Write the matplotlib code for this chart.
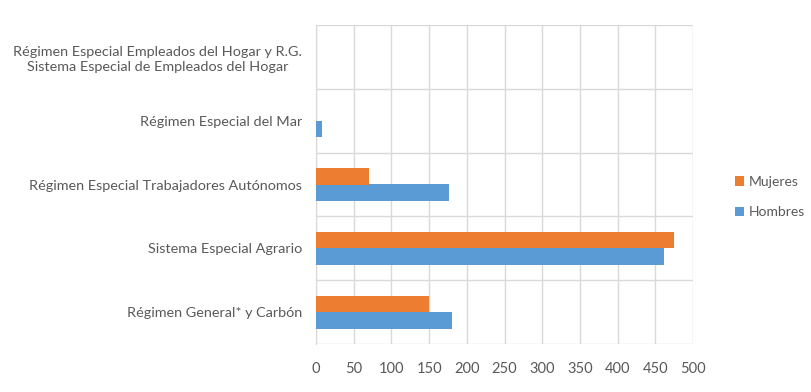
import matplotlib
matplotlib.use("Agg")
import matplotlib.pyplot as plt
import numpy as np

categories = [
    "Régimen General* y Carbón",
    "Sistema Especial Agrario",
    "Régimen Especial Trabajadores Autónomos",
    "Régimen Especial del Mar",
    "Régimen Especial Empleados del Hogar y R.G.\nSistema Especial de Empleados del Hogar",
]
hombres = [180, 461, 176, 8, 0]
mujeres = [150, 475, 70, 0, 0]
xticks = [0, 50, 100, 150, 200, 250, 300, 350, 400, 450, 500]

plt.rcParams['font.family'] = ['Lato', 'DejaVu Sans']
text_color = "#595959"
blue = "#5B9BD5"
orange = "#ED7D31"

fig = plt.figure(figsize=(8.11, 3.92), dpi=100)
ax = fig.add_axes([316/811, 1 - 344/392, (693-316)/811, (344-25)/392])

y = np.arange(len(categories))
h = 0.26
ax.barh(y - h/2, hombres, height=h, color=blue, label="Hombres", zorder=3)
ax.barh(y + h/2, mujeres, height=h, color=orange, label="Mujeres", zorder=3)

ax.set_xlim(0, 500)
ax.set_ylim(-0.5, len(categories) - 0.5)
ax.set_xticks(xticks)
ax.set_yticks(y)
ax.set_yticklabels(categories, fontsize=10.4, color=text_color, ha="right",
                   multialignment="center", linespacing=1.35)
ax.tick_params(axis="y", length=0, pad=10)
ax.tick_params(axis="x", length=0, labelsize=10.5, labelcolor=text_color, pad=13)

ax.set_yticks(np.arange(-0.5, len(categories)), minor=True)
ax.tick_params(axis="y", which="minor", length=0)
ax.grid(axis="x", color="#D9D9D9", linewidth=1, zorder=0)
ax.grid(axis="y", which="minor", color="#D9D9D9", linewidth=1, zorder=0)
ax.grid(axis="y", which="major", visible=False)
for s in ["top", "right", "bottom"]:
    ax.spines[s].set_visible(False)
ax.spines["left"].set_color("#D9D9D9")

handles, labels = ax.get_legend_handles_labels()
leg = fig.legend(handles[::-1], labels[::-1], loc="center left",
                 bbox_to_anchor=(722/811, 1 - 197/392), frameon=False,
                 fontsize=10, handlelength=0.65, handleheight=0.65,
                 labelspacing=1.3, handletextpad=0.4)
for t in leg.get_texts():
    t.set_color(text_color)

fig.savefig("out.png", dpi=100)
